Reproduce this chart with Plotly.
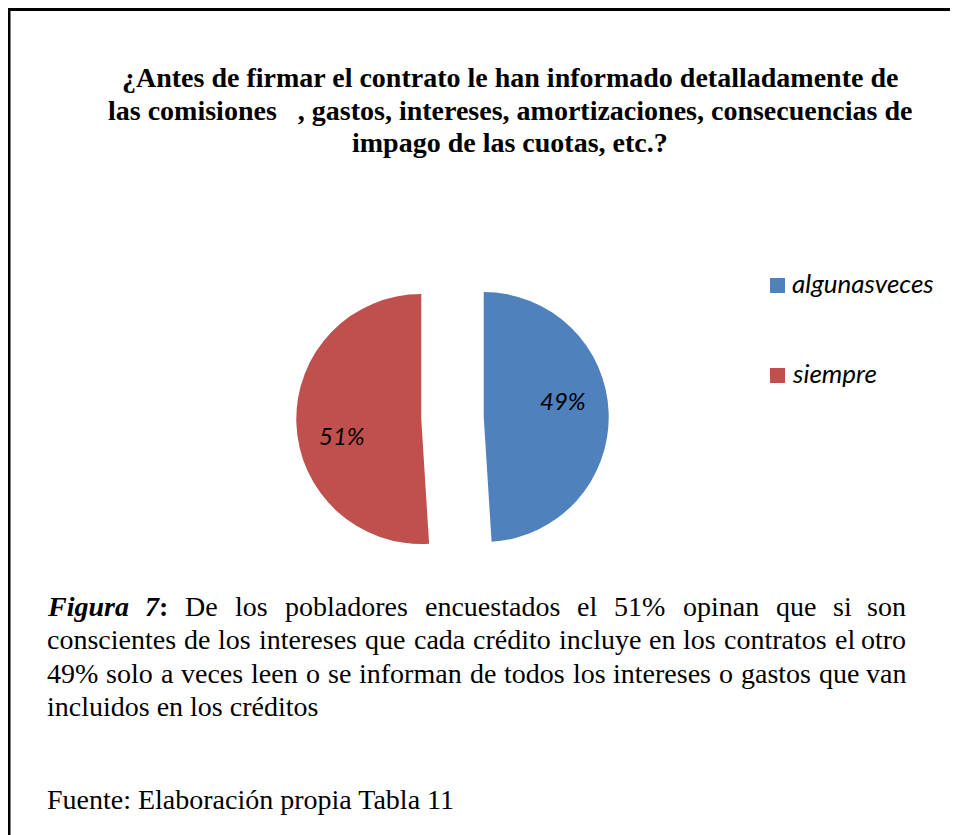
import math
import plotly.graph_objects as go

# ---------------- data ----------------
categories = ["algunasveces", "siempre"]
values = [49, 51]
colors = ["#4F81BD", "#C0504D"]

title_lines = [
    "¿Antes de firmar el contrato le han informado detalladamente de",
    "las comisiones\u00a0\u00a0 , gastos, intereses, amortizaciones, consecuencias de",
    "impago de las cuotas, etc.?",
]
caption_lead = ["Figura", "7:"]
caption_lines = [
    "De los pobladores encuestados el 51% opinan que si son",
    "conscientes de los intereses que cada crédito incluye en los contratos el otro",
    "49% solo a veces leen o se informan de todos los intereses o gastos que van",
    "incluidos en los créditos",
]
source_text = "Fuente: Elaboración propia Tabla 11"

# ---------------- layout helpers ----------------
OFF = 8                      # page body margin
W, H = 958 - OFF, 835 - OFF
SERIF = "Liberation Serif"
SANS = "Lato"


def px(x):
    return (x - OFF) / W


def py(y):
    return 1 - (y - OFF) / H


# Times New Roman (= Liberation Serif) advance widths, units per 1000
TNR = dict(
    a=444, b=500, c=444, d=500, e=444, f=333, g=500, h=500, i=278, j=278, k=500,
    l=278, m=778, n=500, o=500, p=500, q=500, r=333, s=389, t=278, u=500, v=500,
    w=722, x=500, y=500, z=444, D=722, F=556, E=611, T=611,
)
TNR.update({"é": 444, "ó": 500, "%": 833, ":": 278, ",": 250, ".": 250, " ": 250})
for dgt in "0123456789":
    TNR[dgt] = 500
TNR_BI = {"F": 667, "i": 278, "g": 500, "u": 556, "r": 389, "a": 500, "7": 500, ":": 333}


def width(word, size, table):
    return sum(table.get(ch, 500) for ch in word) * size / 1000.0


annotations = []
shapes = []

# frame (left + top border, cropped at right/bottom)
shapes.append(dict(type="line", xref="paper", yref="paper", x0=px(9), x1=px(990),
                   y0=py(9.5), y1=py(9.5), line=dict(color="black", width=3)))
shapes.append(dict(type="line", xref="paper", yref="paper", x0=px(9), x1=px(9),
                   y0=py(8), y1=py(880), line=dict(color="black", width=3)))

# title
TSIZE = 28
for i, line in enumerate(title_lines):
    base = 87 + i * 32.5
    annotations.append(dict(
        text="<b>%s</b>" % line, x=px(510), y=py(base - 0.338 * TSIZE),
        xref="paper", yref="paper", xanchor="center", yanchor="middle",
        showarrow=False, borderpad=0,
        font=dict(family=SERIF, size=TSIZE, color="black")))

# caption (justified)
CSIZE = 28
LEFT, RIGHT = 46, 907
for li, line in enumerate(caption_lines):
    base = 616 + li * 33.3
    yy = py(base - 0.338 * CSIZE)
    words = line.split(" ")
    items = []
    if li == 0:
        items.append(("<b><i>Figura</i></b>", width("Figura", CSIZE, TNR_BI)))
        items.append(("<b><i>7</i>:</b>", width("7:", CSIZE, TNR_BI)))
    for wd in words:
        items.append((wd, width(wd, CSIZE, TNR)))
    if li == len(caption_lines) - 1:
        annotations.append(dict(
            text=line, x=px(LEFT), y=yy, xref="paper", yref="paper",
            xanchor="left", yanchor="middle", showarrow=False, borderpad=0,
            font=dict(family=SERIF, size=CSIZE, color="black")))
        continue
    total = sum(w for _, w in items)
    gap = (RIGHT - LEFT - total) / (len(items) - 1)
    xcur = LEFT
    for k, (txt, w) in enumerate(items):
        last = k == len(items) - 1
        annotations.append(dict(
            text=txt, x=px(RIGHT if last else xcur), y=yy,
            xref="paper", yref="paper", xanchor="right" if last else "left",
            yanchor="middle", showarrow=False, borderpad=0,
            font=dict(family=SERIF, size=CSIZE, color="black")))
        xcur += w + gap

# source line
annotations.append(dict(
    text=source_text, x=px(LEFT), y=py(809 - 0.338 * CSIZE),
    xref="paper", yref="paper", xanchor="left", yanchor="middle",
    showarrow=False, borderpad=0,
    font=dict(family=SERIF, size=CSIZE, color="black")))

# legend (manual, to keep Excel-like spacing)
LSIZE = 26
for k, (cat, col) in enumerate(zip(categories, colors)):
    base = 293 + k * 90
    shapes.append(dict(type="rect", xref="paper", yref="paper",
                       x0=px(770), x1=px(785), y0=py(base), y1=py(base - 15),
                       fillcolor=col, line=dict(width=0)))
    annotations.append(dict(
        text=cat, x=px(791), y=py(base - 0.387 * LSIZE), xref="paper", yref="paper",
        xanchor="left", yanchor="middle", showarrow=False, borderpad=0,
        font=dict(family=SANS, size=LSIZE, color="black", style="italic")))

# pie geometry
cx, cy, r, pull = 452.5, 418, 125, 0.25
half = r * (1 + pull)

# data labels placed from the slice angles (Excel "best fit" style)
PSIZE = 24
tot = float(sum(values))
cum = 0.0
for v in values:
    a0 = cum / tot * 360
    a1 = (cum + v) / tot * 360
    cum += v
    mid = math.radians((a0 + a1) / 2)
    ax = cx + pull * r * math.sin(mid)
    ay = cy - pull * r * math.cos(mid)
    lab = mid - math.radians(10)
    lx = ax + 0.645 * r * math.sin(lab)
    ly = ay - 0.645 * r * math.cos(lab)
    annotations.append(dict(
        text="%d%%" % round(v / tot * 100), x=px(lx), y=py(ly),
        xref="paper", yref="paper", xanchor="center", yanchor="middle",
        showarrow=False, borderpad=0,
        font=dict(family=SANS, size=PSIZE, color="black", style="italic")))

fig = go.Figure(go.Pie(
    labels=categories, values=values, sort=False, direction="clockwise", rotation=0,
    pull=[pull] * len(values),
    marker=dict(colors=colors, line=dict(width=0)),
    textinfo="none",
    domain=dict(x=[px(cx - half), px(cx + half)], y=[py(cy + half), py(cy - half)]),
    showlegend=False, hoverinfo="label+percent",
))

fig.update_layout(
    width=W, height=H, margin=dict(l=0, r=0, t=0, b=0),
    paper_bgcolor="white", plot_bgcolor="white",
    annotations=annotations, shapes=shapes, showlegend=False,
)

fig.write_html("out.html")
